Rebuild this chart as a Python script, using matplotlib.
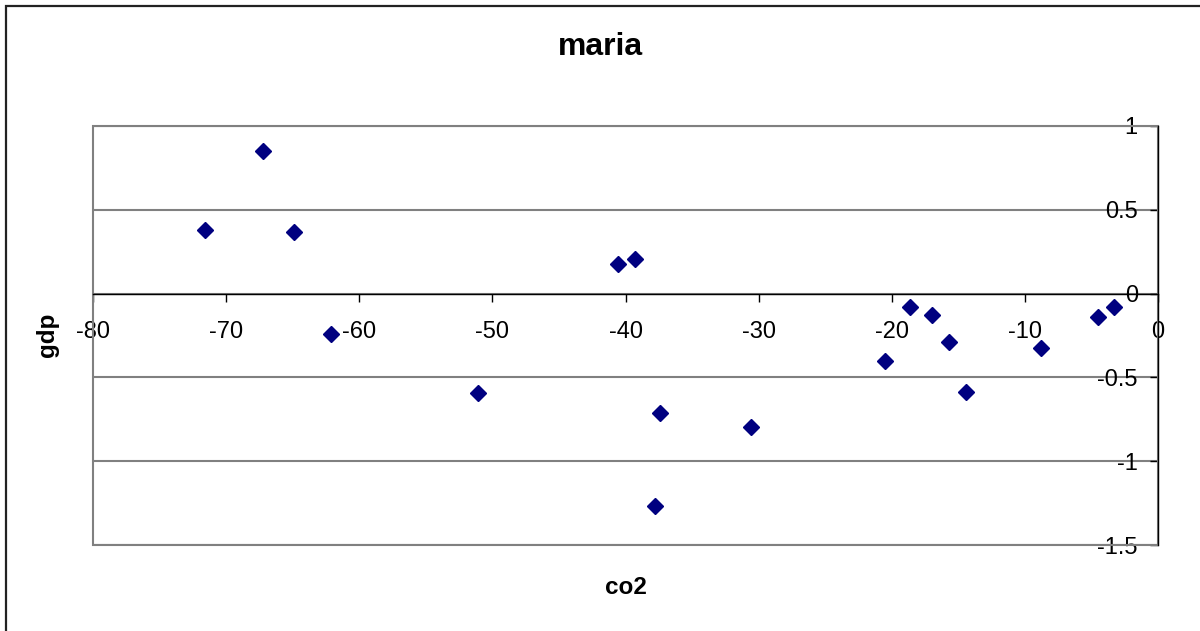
import matplotlib
matplotlib.use("Agg")
import matplotlib.pyplot as plt
from matplotlib.patches import Rectangle
from matplotlib.ticker import FuncFormatter, MultipleLocator

# values
co2 = [-71.6, -67.2, -64.9, -62.1, -51.1, -40.6, -39.3, -37.4, -37.8,
       -30.6, -20.5, -18.6, -17.0, -15.7, -14.4, -8.8, -4.5, -3.3]
gdp = [0.38, 0.85, 0.37, -0.24, -0.595, 0.177, 0.206, -0.71, -1.27,
       -0.796, -0.40, -0.08, -0.128, -0.29, -0.59, -0.325, -0.14, -0.08]

title = "maria"
x_label = "co2"
y_label = "gdp"

plt.rcParams['font.family'] = ['Liberation Sans', 'DejaVu Sans']
plt.rcParams['axes.unicode_minus'] = False

fig = plt.figure(figsize=(12, 6.31), dpi=100)
ax = fig.add_axes([93 / 1200, 86 / 631, 1065 / 1200, 419 / 631])

ax.set_xlim(-80, 0)
ax.set_ylim(-1.5, 1)

# plot area border (gray)
ax.add_patch(Rectangle((0, 0), 1, 1, transform=ax.transAxes, fill=False,
                       ec='#808080', lw=1.5, zorder=1, clip_on=False))

ax.yaxis.set_major_locator(MultipleLocator(0.5))
ax.xaxis.set_major_locator(MultipleLocator(10))
ax.grid(axis='y', color='#808080', linewidth=1.5, zorder=0)
ax.set_axisbelow(True)

ax.plot(co2, gdp, ls='none', marker='D', markersize=8.2,
        color='#000080', markeredgecolor='#000080', zorder=5)

# axes cross at zero like Excel
for s in ['top', 'right']:
    ax.spines[s].set_visible(False)
ax.spines['left'].set_position(('data', 0))
ax.spines['bottom'].set_position(('data', 0))
ax.spines['left'].set_color('black')
ax.spines['bottom'].set_color('black')
ax.spines['left'].set_linewidth(1.0)
ax.spines['bottom'].set_linewidth(1.0)

fmt = FuncFormatter(lambda v, p: '%g' % v)
ax.xaxis.set_major_formatter(fmt)
ax.yaxis.set_major_formatter(fmt)
ax.tick_params(axis='x', direction='out', length=6, width=1, pad=14,
               labelsize=17, colors='black')
ax.tick_params(axis='y', direction='out', length=6, width=1, pad=8.5,
               labelsize=17, colors='black')

fig.text(626 / 1200, 1 - 588 / 631, x_label, ha='center', va='center',
         fontsize=17.5, fontweight='bold')
fig.text(47 / 1200, 1 - 335 / 631, y_label, ha='center', va='center',
         fontsize=17.5, fontweight='bold', rotation=90)
fig.text(0.5, 1 - 47 / 631, title, ha='center', va='center',
         fontsize=23, fontweight='bold')

# outer chart border
fig.patches.append(Rectangle((5.5 / 1200, -0.1), 1.2, (631 - 5.5) / 631 + 0.1,
                             transform=fig.transFigure, fill=False,
                             ec='#222222', lw=1.6))

fig.savefig("out.png", dpi=100)
